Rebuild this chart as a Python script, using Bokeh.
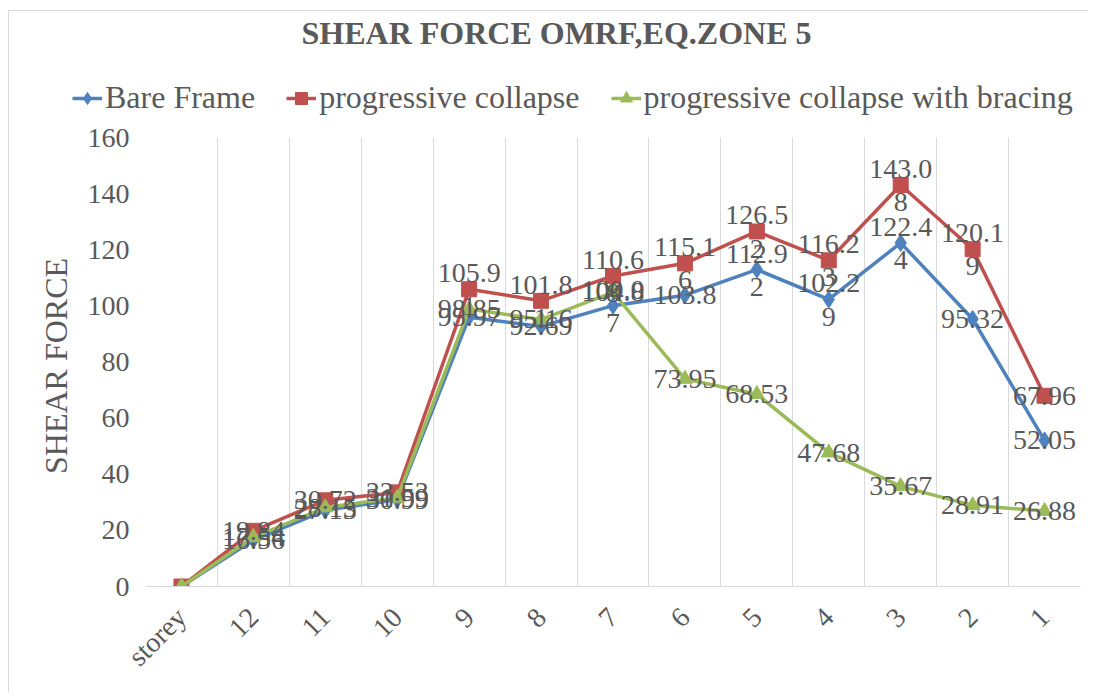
from bokeh.plotting import figure
from bokeh.layouts import column
from bokeh.models import Range1d, FixedTicker, Legend, LegendItem, Label, ColumnDataSource
from bokeh.embed import file_html
from bokeh.resources import INLINE
from bokeh.core.properties import value

categories = ["storey", "12", "11", "10", "9", "8", "7", "6", "5", "4", "3", "2", "1"]
bare_frame = [0, 16.56, 27.13, 30.99, 95.97, 92.69, 100.07, 103.8, 112.92, 102.29, 122.44, 95.32, 52.05]
prog_collapse = [0, 19.84, 30.72, 33.53, 105.91, 101.81, 110.68, 115.16, 126.52, 116.23, 143.08, 120.19, 67.96]
prog_bracing = [0, 17.54, 28.15, 31.59, 98.85, 95.16, 104.8, 73.95, 68.53, 47.68, 35.67, 28.91, 26.88]
series_names = ["Bare Frame", "progressive collapse", "progressive collapse with bracing"]
y_ticks = [0, 20, 40, 60, 80, 100, 120, 140, 160]
chart_title = "SHEAR FORCE OMRF,EQ.ZONE 5"

FONT = "Liberation Serif"
GREY = "#595959"
colors = ["#4F81BD", "#C0504D", "#9BBB59"]
markers = ["diamond", "square", "triangle"]
msizes = [17, 15, 15]

OX, OY = 9, 11          # chart-area border offset
W = 1079
TOP_H = 107
MAIN_H = 574

xs = list(range(len(categories)))
all_series = [bare_frame, prog_collapse, prog_bracing]
sources = [ColumnDataSource(dict(x=xs, y=vals)) for vals in all_series]

# ---- header figure: title + legend ----
top = figure(width=W, height=TOP_H, output_backend="svg", toolbar_location=None,
             x_range=Range1d(OX, OX + W), y_range=Range1d(0, TOP_H),
             min_border_left=0, min_border_right=0, min_border_top=0, min_border_bottom=0,
             x_axis_type=None, y_axis_type=None)
top.frame_align = False
top.outline_line_color = None
top.grid.visible = False
top.background_fill_color = "white"
top.border_fill_color = "white"

title = Label(x=556, y=TOP_H + OY - 32, text=chart_title, text_align="center",
              text_baseline="middle", text_font=FONT, text_font_size="32px",
              text_font_style="bold", text_color=GREY)
top.add_layout(title)

items = []
for name, src, col, mk, ms in zip(series_names, sources, colors, markers, msizes):
    r1 = top.line("x", "y", source=src, line_color=col, line_width=3.5, visible=False)
    r2 = top.scatter("x", "y", source=src, marker=mk, size=ms, fill_color=col,
                     line_color=col, visible=False)
    items.append(LegendItem(label=name, renderers=[r1, r2]))

legend = Legend(items=items, orientation="horizontal", location=(72 - OX, 2),
                label_text_font=FONT, label_text_font_size="32px", label_text_color=GREY,
                glyph_width=30, glyph_height=34, spacing=31, padding=0, margin=0,
                label_standoff=3, border_line_color=None, background_fill_alpha=0,
                inactive_fill_alpha=0, click_policy="none")
top.add_layout(legend)

# ---- main chart ----
p = figure(width=W, height=MAIN_H, output_backend="svg", toolbar_location=None,
           x_range=Range1d(-0.5, len(categories) - 0.5), y_range=Range1d(0, 160),
           min_border_left=145 - OX, min_border_right=8, min_border_top=19, min_border_bottom=106)
p.frame_align = False
p.outline_line_color = None
p.background_fill_color = "white"
p.border_fill_color = "white"

p.xaxis.ticker = FixedTicker(ticks=xs)
p.xaxis.major_label_overrides = {i: c for i, c in enumerate(categories)}
p.xaxis.major_label_orientation = 0.785398
p.xaxis.major_label_text_font = FONT
p.xaxis.major_label_text_font_size = "28px"
p.xaxis.major_label_text_color = GREY
p.xaxis.axis_line_color = "#d9d9d9"
p.xaxis.major_tick_line_color = None
p.xaxis.minor_tick_line_color = None
p.xaxis.major_label_standoff = 20

p.yaxis.ticker = FixedTicker(ticks=y_ticks)
p.yaxis.major_label_text_font = FONT
p.yaxis.major_label_text_font_size = "28px"
p.yaxis.major_label_text_color = GREY
p.yaxis.axis_line_color = None
p.yaxis.major_tick_line_color = None
p.yaxis.minor_tick_line_color = None
p.yaxis.major_label_standoff = 10
p.yaxis.axis_label = "SHEAR  FORCE"
p.yaxis.axis_label_text_font = FONT
p.yaxis.axis_label_text_font_size = "32px"
p.yaxis.axis_label_text_font_style = "normal"
p.yaxis.axis_label_text_color = GREY
p.yaxis.axis_label_standoff = 11

p.ygrid.grid_line_color = None
p.xgrid.ticker = FixedTicker(ticks=[i - 0.5 for i in range(len(categories) + 1)])
p.xgrid.grid_line_color = "#d9d9d9"
p.xgrid.grid_line_width = 1


def wrap(v):
    s = f"{v}"
    if len(s) > 5:
        s = s[:5] + "\n" + s[5:]
    return s


lx, ly, lt = [], [], []
for vals, src, col, mk, ms in zip(all_series, sources, colors, markers, msizes):
    p.line("x", "y", source=src, line_color=col, line_width=3.5)
    p.scatter("x", "y", source=src, marker=mk, size=ms, fill_color=col, line_color=col)
    for x, v in zip(xs, vals):
        if v != 0:
            lx.append(x)
            ly.append(v)
            lt.append(wrap(v))

lsrc = ColumnDataSource(dict(x=lx, y=ly, t=lt))
p.text("x", "y", text="t", source=lsrc, text_align="center", text_baseline="middle",
       text_font=value(FONT), text_font_size="28px", text_color=GREY, text_line_height=1.07)

layout = column(top, p, spacing=0)
layout.styles = {"margin-left": f"{OX - 1}px", "margin-top": f"{OY - 1}px",
                 "border-left": "1px solid #d9d9d9", "border-top": "1px solid #d9d9d9"}
open("out.html", "w").write(file_html(layout, INLINE))
